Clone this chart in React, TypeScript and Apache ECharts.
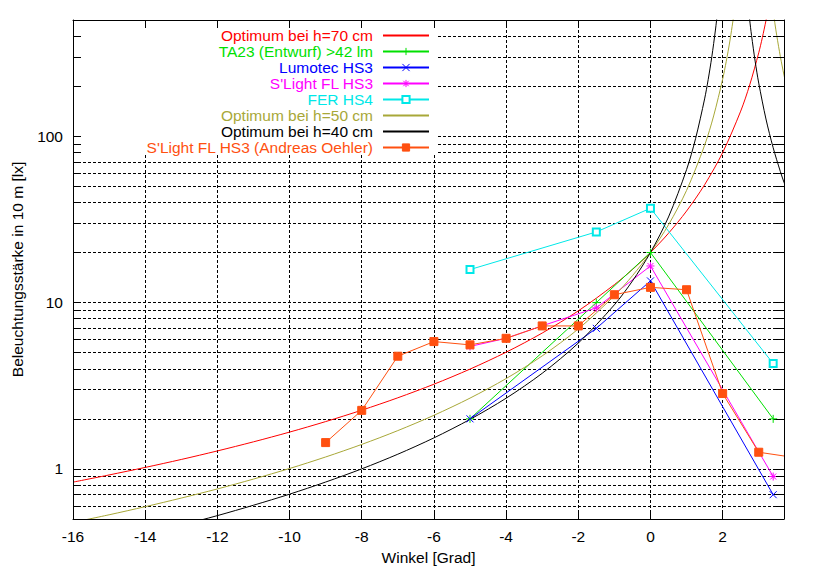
import React, { useEffect, useRef } from "react";
import * as echarts from "echarts";

// ---- data ----
const xTickValues = [-16, -14, -12, -10, -8, -6, -4, -2, 0, 2];
const xGridValues = [-14, -12, -10, -8, -6, -4, -2, 0, 2];
const yLabelValues = [1, 10, 100];
const yTickValues = [
  0.6, 0.7, 0.8, 0.9, 1, 2, 3, 4, 5, 6, 7, 8, 9, 10, 20, 30, 40, 50, 60, 70, 80, 90, 100, 200, 300, 400,
];

// Optimum bei h=70 cm
const opt70X = [-16, -15, -14, -13, -12, -11, -10, -9, -8, -7, -6, -5, -4, -3, -2, -1, -0.5, 0, 0.5, 1, 1.5, 2, 2.5, 2.75, 3, 3.1, 3.2, 3.25];
const opt70Y = [0.833, 0.92, 1.021, 1.14, 1.283, 1.455, 1.665, 1.926, 2.255, 2.677, 3.231, 3.982, 5.031, 6.559, 8.915, 12.82, 15.81, 20.0, 26.11, 35.51, 51.1, 79.75, 141.6, 203.6, 317.6, 391.7, 495.3, 563.1];

// Optimum bei h=50 cm (two branches, null = gap at the pole)
const opt50X = [-16, -15, -14, -13, -12, -11, -10, -9, -8, -7, -6, -5, -4, -3, -2, -1, -0.5, 0, 0.5, 1, 1.5, 1.75, 2, 2.1, 2.2, 2.3, 2.85, 3.4, 3.45, 3.5, 3.6, 3.7, 3.8];
const opt50Y = [0.477, 0.53, 0.593, 0.668, 0.758, 0.869, 1.006, 1.18, 1.404, 1.7, 2.101, 2.665, 3.493, 4.781, 6.941, 10.99, 14.5, 20.0, 29.36, 47.23, 88.26, 132.4, 220.3, 281.9, 373.5, 518.3, null, 565.5, 473.5, 402.2, 300.6, 233.1, 186.0];

// Optimum bei h=40 cm
const opt40X = [-16, -14, -13, -12, -11, -10, -9, -8, -7, -6, -5, -4, -3, -2, -1, -0.5, 0, 0.5, 1, 1.25, 1.5, 1.6, 1.7, 1.8, 1.85, 2.3, 2.7, 2.75, 2.8, 2.9, 3.0, 3.2, 3.4, 3.6, 3.7, 3.8];
const opt40Y = [0.324, 0.406, 0.459, 0.524, 0.605, 0.705, 0.834, 1.001, 1.226, 1.537, 1.985, 2.661, 3.758, 5.708, 9.697, 13.48, 20.0, 32.72, 62.95, 96.82, 167.7, 219.7, 300.4, 435.2, 539.5, null, 627, 498.0, 404.9, 282.9, 208.7, 127.0, 85.31, 61.24, 52.85, 46.08];

// measured lamps
const lampX = [-5, -1.5, 0, 3.4];
const ta23Y = [2.0, 10.0, 20.0, 2.0];
const lumotecY = [2.0, 7.0, 13.5, 0.7];
const ferY = [15.8, 26.6, 36.9, 4.3];

const slightX = [-5, -4, -3, -1.5, 0, 3.4];
const slightY = [5.45, 6.1, 7.25, 9.3, 16.6, 0.9];

const oehlerX = [-9, -8, -7, -6, -5, -4, -3, -2, -1, 0, 1, 2, 3, 4];
const oehlerY = [1.44, 2.25, 4.76, 5.83, 5.57, 6.1, 7.24, 7.24, 11.15, 12.35, 11.95, 2.84, 1.26, 1.17];

const seriesNames = [
  "Optimum bei h=70 cm",
  "TA23 (Entwurf) >42 lm",
  "Lumotec HS3",
  "S'Light FL HS3",
  "FER HS4",
  "Optimum bei h=50 cm",
  "Optimum bei h=40 cm",
  "S'Light FL HS3 (Andreas Oehler)",
];
const seriesColors = ["#ff0000", "#00e000", "#0000ff", "#ff00ff", "#00e8e8", "#a8a838", "#000000", "#ff5010"];

const FONT = "'Liberation Sans', Arial, Helvetica, sans-serif";

const pairs = (xs: number[], ys: (number | null)[]) => xs.map((x, i) => [x, ys[i]]);

const PLUS = "path://M0,4H8M4,0V8";
const CROSS = "path://M0,0L8,8M8,0L0,8";
const STAR = "path://M0,4H8M4,0V8M1,1L7,7M7,1L1,7";

export default function App() {
  const ref = useRef<HTMLDivElement>(null);

  useEffect(() => {
    if (!ref.current) return;
    const chart = echarts.init(ref.current, null, { renderer: "svg" });

    const gridLine = { show: true, lineStyle: { color: "#000", width: 1, type: [3, 2] } };
    const borderLine = { show: true, onZero: false, lineStyle: { color: "#000", width: 1 } };
    const textBase = { color: "#000", fontSize: 15.5, fontFamily: FONT };

    const curve = (i: number, data: any[]) => ({
      name: seriesNames[i],
      type: "line",
      xAxisIndex: 0,
      yAxisIndex: 0,
      data,
      symbol: "none",
      smooth: 0.3,
      connectNulls: false,
      lineStyle: { color: seriesColors[i], width: 1 },
      itemStyle: { color: seriesColors[i] },
      clip: true,
    });

    const lamp = (i: number, data: any[], symbol: string, size: number) => ({
      name: seriesNames[i],
      type: "line",
      xAxisIndex: 0,
      yAxisIndex: 0,
      data,
      symbol,
      symbolSize: size,
      showSymbol: true,
      showAllSymbol: true,
      lineStyle: { color: seriesColors[i], width: 1 },
      itemStyle: { color: seriesColors[i], borderColor: seriesColors[i], borderWidth: 1 },
      clip: true,
    });

    const legendItem = (i: number, hideSymbol: boolean) => ({
      name: seriesNames[i],
      textStyle: { color: seriesColors[i] },
      ...(hideSymbol ? { itemStyle: { opacity: 0 } } : {}),
    });

    chart.setOption({
      animation: false,
      backgroundColor: "#fff",
      textStyle: { fontFamily: FONT },
      grid: { left: 73, right: 29, top: 20, bottom: 50 },
      graphic: [
        {
          type: "rect",
          z: 1,
          silent: true,
          shape: { x: 74, y: 20.5, width: 363, height: 134 },
          style: { fill: "#fff" },
        },
      ],
      legend: {
        orient: "vertical",
        right: 383,
        top: 27.5,
        padding: 0,
        itemGap: 0,
        itemWidth: 46,
        itemHeight: 9,
        align: "right",
        selectedMode: false,
        itemStyle: { borderWidth: 1 },
        textStyle: { fontSize: 15.5, fontFamily: FONT, lineHeight: 15.5, padding: [0, 5, 0, 0] },
        data: [
          legendItem(0, true),
          legendItem(1, false),
          legendItem(2, false),
          legendItem(3, false),
          legendItem(4, false),
          legendItem(5, true),
          legendItem(6, true),
          legendItem(7, false),
        ],
      },
      xAxis: [
        {
          type: "value",
          min: -16,
          max: 3.7,
          position: "bottom",
          z: 5,
          axisLine: borderLine,
          axisTick: { show: true, inside: true, length: 8, lineStyle: { color: "#000" }, customValues: xTickValues },
          axisLabel: { ...textBase, margin: 9, customValues: xTickValues },
          splitLine: { show: false },
          name: "Winkel [Grad]",
          nameLocation: "middle",
          nameGap: 30,
          nameTextStyle: textBase,
        },
        {
          type: "value",
          min: -16,
          max: 3.7,
          position: "top",
          z: 5,
          axisLine: borderLine,
          axisTick: { show: true, inside: true, length: 8, lineStyle: { color: "#000" }, customValues: xTickValues },
          axisLabel: { show: false },
          splitLine: { show: false },
        },
        {
          type: "value",
          min: -16,
          max: 3.7,
          position: "bottom",
          z: 0,
          axisLine: { show: false },
          axisTick: { show: false, customValues: xGridValues },
          axisLabel: { show: false },
          splitLine: gridLine,
        },
      ],
      yAxis: [
        {
          type: "log",
          logBase: 10,
          min: 0.5,
          max: 500,
          position: "left",
          z: 5,
          axisLine: borderLine,
          axisTick: { show: true, inside: true, length: 8, lineStyle: { color: "#000" }, customValues: yTickValues },
          axisLabel: { ...textBase, margin: 10, customValues: yLabelValues },
          splitLine: { show: false },
          minorTick: { show: false },
          name: "Beleuchtungsstärke in 10 m [lx]",
          nameLocation: "middle",
          nameGap: 48,
          nameTextStyle: textBase,
        },
        {
          type: "log",
          logBase: 10,
          min: 0.5,
          max: 500,
          position: "right",
          z: 5,
          axisLine: borderLine,
          axisTick: { show: true, inside: true, length: 8, lineStyle: { color: "#000" }, customValues: yTickValues },
          axisLabel: { show: false },
          splitLine: { show: false },
        },
        {
          type: "log",
          logBase: 10,
          min: 0.5,
          max: 500,
          position: "left",
          z: 0,
          axisLine: { show: false },
          axisTick: { show: false, customValues: yTickValues },
          axisLabel: { show: false },
          splitLine: gridLine,
        },
      ],
      series: [
        curve(0, pairs(opt70X, opt70Y)),
        lamp(1, pairs(lampX, ta23Y), PLUS, 8),
        lamp(2, pairs(lampX, lumotecY), CROSS, 7),
        lamp(3, pairs(slightX, slightY), STAR, 8),
        lamp(4, pairs(lampX, ferY), "emptyRect", 7),
        curve(5, pairs(opt50X, opt50Y)),
        curve(6, pairs(opt40X, opt40Y)),
        lamp(7, pairs(oehlerX, oehlerY), "rect", 8),
      ],
    });

    return () => chart.dispose();
  }, []);

  return (
    <div
      ref={ref}
      style={{ position: "absolute", left: 0, top: 0, width: 813, height: 570, background: "#fff" }}
    />
  );
}
